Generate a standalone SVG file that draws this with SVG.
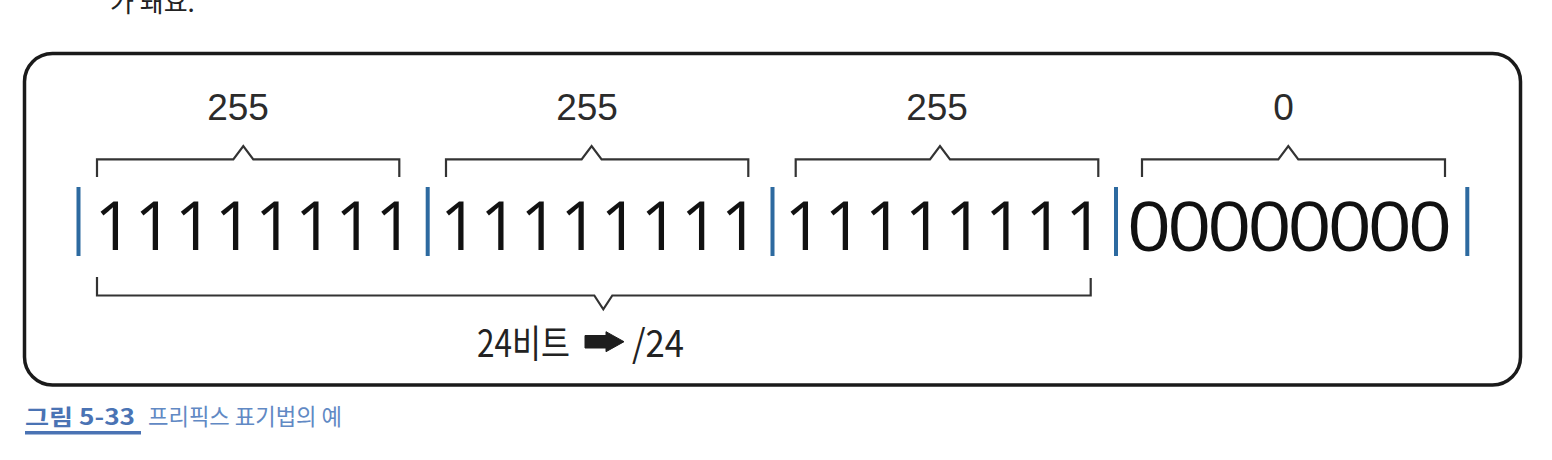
<svg xmlns="http://www.w3.org/2000/svg" width="1552" height="460" viewBox="0 0 1552 460">
<style>
.frame{fill:#fff;stroke:#1a1a1a;stroke-width:3.5}
.br{fill:none;stroke:#333;stroke-width:2.2;stroke-linejoin:miter}
.lbl{font-family:"Liberation Sans",Arial,sans-serif;font-size:37px;fill:#2b2b2b;text-anchor:middle}
.ones{font-family:"Open Sans","Noto Sans",sans-serif;font-size:67px;fill:#111;letter-spacing:1.8px}
.zeros{font-family:"Open Sans","Noto Sans",sans-serif;font-size:67px;fill:#111;letter-spacing:-3.4px}
.sep{fill:#2d6aa0}
.kr{font-family:"Noto Sans CJK KR",sans-serif}
</style>
<rect width="1552" height="460" fill="#fff"/>
<text x="110" y="12" class="kr" font-size="26" fill="#222">가 돼요.</text>
<g id="frame"><rect class="frame" x="24.5" y="53.5" width="1496" height="331.5" rx="28"/></g>
<g id="separators">
<rect class="sep" x="76.5" y="187" width="4" height="69"/>
<rect class="sep" x="425.7" y="187" width="4" height="69"/>
<rect class="sep" x="770.5" y="187" width="4" height="69"/>
<rect class="sep" x="1114" y="187" width="4" height="69"/>
<rect class="sep" x="1465.3" y="187" width="4" height="69"/>
</g>
<g id="octet1">
<text class="lbl" x="238" y="120">255</text>
<path class="br" d="M97 177V159.3H233.3L243.3 146L253.3 159.3H399.3V177"/>
<text class="ones" x="94.5" y="249.5">11111111</text>
</g>
<g id="octet2">
<text class="lbl" x="587" y="120">255</text>
<path class="br" d="M446 177V159.3H581.6L591.6 146L601.6 159.3H748.3V177"/>
<text class="ones" x="440" y="249.5">11111111</text>
</g>
<g id="octet3">
<text class="lbl" x="937" y="120">255</text>
<path class="br" d="M795.7 177V159.3H930L940 146L950 159.3H1098.3V177"/>
<text class="ones" x="784.5" y="249.5">11111111</text>
</g>
<g id="octet4">
<text class="lbl" x="1283.5" y="120">0</text>
<path class="br" d="M1142 177V159.3H1278.3L1288.3 146L1298.3 159.3H1445V177"/>
<text class="zeros" transform="translate(1127 250.5) scale(1.15 1)" x="0" y="0">00000000</text>
</g>
<g id="connectors">
<path class="br" d="M97 277V295.5H594.3L603.3 309.3L612.3 295.5H1090.7V278"/>
</g>
<g id="prefix-label">
<text class="kr" x="477" y="357" font-size="38" fill="#222" textLength="93" lengthAdjust="spacingAndGlyphs">24비트</text>
<polygon points="585,335.5 606,335.5 606,331.7 624,341.7 606,351.7 606,348 585,348" fill="#1e1e1e" stroke="#1e1e1e" stroke-width="1" stroke-linejoin="round"/>
<text class="kr" x="632" y="357" font-size="38" fill="#222" textLength="52" lengthAdjust="spacingAndGlyphs">/24</text>
</g>
<g id="caption">
<text class="kr" x="25" y="425" font-size="22" font-weight="bold" fill="#4a73b4" textLength="110" lengthAdjust="spacingAndGlyphs">그림 5-33</text>
<rect x="25" y="431" width="116" height="3.5" fill="#4a73b4"/>
<text class="kr" x="148" y="425" font-size="23" fill="#6189c4" textLength="194" lengthAdjust="spacingAndGlyphs">프리픽스 표기법의 예</text>
</g>
</svg>
